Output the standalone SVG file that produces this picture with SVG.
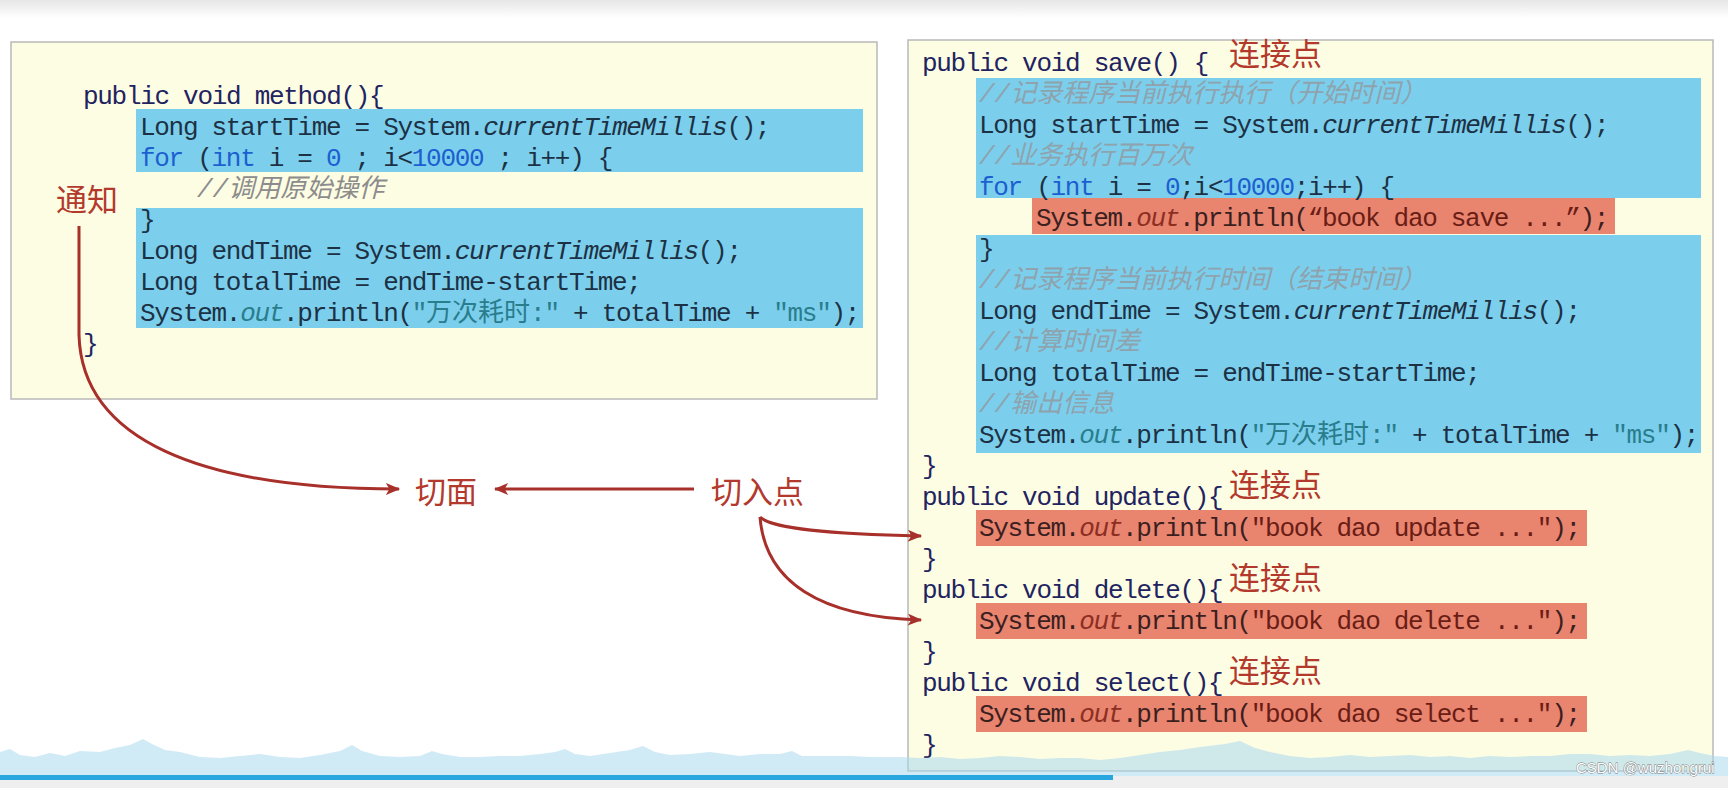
<svg xmlns="http://www.w3.org/2000/svg" width="1728" height="788" viewBox="0 0 1728 788">
<defs>
<linearGradient id="topg" x1="0" y1="0" x2="0" y2="1">
<stop offset="0" stop-color="#e6e6e6"/>
<stop offset="1" stop-color="#ffffff"/>
</linearGradient>
<marker id="ah" viewBox="0 0 12 10" refX="11" refY="5" markerWidth="15" markerHeight="12" markerUnits="userSpaceOnUse" orient="auto">
<path d="M0,0 L12,5 L0,10 L3,5 z" fill="#a8302a"/>
</marker>
<style>
.box{fill:#fdfde4;stroke:#b9b9b9;stroke-width:1.5}
.hb{fill:#7bcfec}
.hr{fill:#e9846f}
.code{font-family:"Liberation Mono","Noto Sans CJK SC",monospace;font-size:26px;letter-spacing:-1.3px;fill:#1d3145}
.decl{fill:#1f2460}
.kw{fill:#1b5fd0}
.it{font-style:italic}
.str{fill:#2a7d8c}
.cj{letter-spacing:0px}
.cm{font-family:"Liberation Mono","Noto Sans CJK SC",monospace;font-size:26px;font-style:italic;fill:#8ea3ae}
.cm2{fill:#8c8c8c}
.rd{fill:#3b1f1f}
.ro{fill:#8c2f22;font-style:italic}
.rs{fill:#6a1d14}
.lbl{font-family:"Noto Sans CJK SC","Noto Sans",sans-serif;font-size:31px;fill:#b3392c}
.conn{fill:none;stroke:#a8302a;stroke-width:3;marker-end:url(#ah)}
</style>
</defs>
<rect x="0" y="0" width="1728" height="788" fill="#ffffff"/>
<rect x="0" y="0" width="1728" height="18" fill="url(#topg)"/>

<g id="left-box">
<rect class="box" x="11" y="42" width="866" height="357"/>
<rect class="hb" x="136" y="109" width="727" height="63"/>
<rect class="hb" x="136" y="208" width="727" height="120"/>
<text class="code decl" x="83" y="104">public void method(){</text>
<text class="code" x="140" y="135">Long startTime = System.<tspan class="it">currentTimeMillis</tspan>();</text>
<text class="code" x="140" y="166"><tspan class="kw">for</tspan> (<tspan class="kw">int</tspan> i = <tspan class="kw">0</tspan> ; i&lt;<tspan class="kw">10000</tspan> ; i++) {</text>
<text class="cm cm2" x="197" y="197">//调用原始操作</text>
<text class="code" x="140" y="228">}</text>
<text class="code" x="140" y="259">Long endTime = System.<tspan class="it">currentTimeMillis</tspan>();</text>
<text class="code" x="140" y="290">Long totalTime = endTime-startTime;</text>
<text class="code" x="140" y="321">System.<tspan class="it str">out</tspan>.println(<tspan class="str">"<tspan class="cj">万次耗时</tspan>:"</tspan> + totalTime + <tspan class="str">"ms"</tspan>);</text>
<text class="code decl" x="83" y="352">}</text>
</g>

<g id="right-box">
<rect class="box" x="908" y="40" width="805" height="731"/>
<rect class="hb" x="976" y="78" width="725" height="120"/>
<rect class="hr" x="1032" y="198" width="583" height="36"/>
<rect class="hb" x="976" y="235" width="725" height="218"/>
<rect class="hr" x="976" y="510" width="611" height="36"/>
<rect class="hr" x="976" y="603" width="611" height="36"/>
<rect class="hr" x="976" y="696" width="611" height="36"/>
<text class="code decl" x="922" y="71">public void save() {</text>
<text class="cm" x="979" y="102">//记录程序当前执行执行（开始时间）</text>
<text class="code" x="979" y="133">Long startTime = System.<tspan class="it">currentTimeMillis</tspan>();</text>
<text class="cm" x="979" y="164">//业务执行百万次</text>
<text class="code" x="979" y="195"><tspan class="kw">for</tspan> (<tspan class="kw">int</tspan> i = <tspan class="kw">0</tspan>;i&lt;<tspan class="kw">10000</tspan>;i++) {</text>
<text class="code rd" x="1036" y="226">System.<tspan class="ro">out</tspan>.println(<tspan class="rs">“book dao save ...”</tspan>);</text>
<text class="code" x="979" y="257">}</text>
<text class="cm" x="979" y="288">//记录程序当前执行时间（结束时间）</text>
<text class="code" x="979" y="319">Long endTime = System.<tspan class="it">currentTimeMillis</tspan>();</text>
<text class="cm" x="979" y="350">//计算时间差</text>
<text class="code" x="979" y="381">Long totalTime = endTime-startTime;</text>
<text class="cm" x="979" y="412">//输出信息</text>
<text class="code" x="979" y="443">System.<tspan class="it str">out</tspan>.println(<tspan class="str">"<tspan class="cj">万次耗时</tspan>:"</tspan> + totalTime + <tspan class="str">"ms"</tspan>);</text>
<text class="code decl" x="922" y="474">}</text>
<text class="code decl" x="922" y="505">public void update(){</text>
<text class="code rd" x="979" y="536">System.<tspan class="ro">out</tspan>.println(<tspan class="rs">"book dao update ..."</tspan>);</text>
<text class="code decl" x="922" y="567">}</text>
<text class="code decl" x="922" y="598">public void delete(){</text>
<text class="code rd" x="979" y="629">System.<tspan class="ro">out</tspan>.println(<tspan class="rs">"book dao delete ..."</tspan>);</text>
<text class="code decl" x="922" y="660">}</text>
<text class="code decl" x="922" y="691">public void select(){</text>
<text class="code rd" x="979" y="722">System.<tspan class="ro">out</tspan>.println(<tspan class="rs">"book dao select ..."</tspan>);</text>
<text class="code decl" x="922" y="753">}</text>
</g>

<g id="label-join-save"><text class="lbl" x="1229" y="65">连接点</text></g>
<g id="label-join-update"><text class="lbl" x="1229" y="496">连接点</text></g>
<g id="label-join-delete"><text class="lbl" x="1229" y="589">连接点</text></g>
<g id="label-join-select"><text class="lbl" x="1229" y="682">连接点</text></g>
<g id="label-advice"><text class="lbl" x="56" y="211">通知</text></g>
<g id="label-aspect"><text class="lbl" x="415" y="503">切面</text></g>
<g id="label-pointcut"><text class="lbl" x="711" y="503">切入点</text></g>

<g id="connectors">
<path class="conn" d="M79,226 L79,335 C82,440 200,489 399,489"/>
<path class="conn" d="M694,489 L495,489"/>
<path class="conn" d="M760,517 C772,529 830,534 921,536"/>
<path class="conn" d="M760,517 C765,582 820,617 921,620"/>
</g>

<g id="footer">
<path d="M0,752 L10,749 L20,755 L35,757 L50,753 L65,756 L80,751 L100,752 L115,748 L130,745 L143,739 L152,744 L165,750 L180,752 L200,757 L220,758 L240,756 L260,754 L280,757 L300,758 L320,755 L340,751 L352,745 L362,751 L380,756 L400,757 L420,756 L432,751 L442,754 L460,757 L480,757 L500,756 L520,756 L540,754 L555,752 L565,749 L575,754 L590,756 L610,753 L630,750 L643,746 L655,752 L670,755 L690,754 L710,752 L725,754 L740,756 L760,754 L780,754 L792,751 L802,756 L820,756 L850,756 L870,757 L900,757 L920,758 L940,757 L960,759 L980,758 L1000,756 L1020,757 L1040,759 L1060,758 L1080,758 L1100,760 L1120,758 L1140,755 L1160,752 L1180,750 L1200,747 L1225,744 L1240,741 L1255,748 L1270,752 L1290,756 L1310,758 L1330,757 L1350,755 L1370,757 L1390,756 L1410,755 L1430,757 L1450,756 L1470,758 L1490,756 L1510,757 L1530,756 L1550,756 L1570,754 L1590,754 L1610,756 L1630,755 L1650,756 L1670,754 L1688,750 L1700,753 L1715,756 L1728,757 L1728,776 L0,776 Z" fill="#a9d9ee" fill-opacity="0.55"/>
<rect x="0" y="776" width="1728" height="12" fill="#efefef"/>
<rect x="0" y="775" width="1113" height="5" fill="#27a6df"/>
<text x="1576" y="773" font-family="'Liberation Sans',sans-serif" font-size="15" fill="#ffffff" stroke="#777777" stroke-width="0.8" paint-order="stroke">CSDN @wuzhongrui</text>
</g>
</svg>
